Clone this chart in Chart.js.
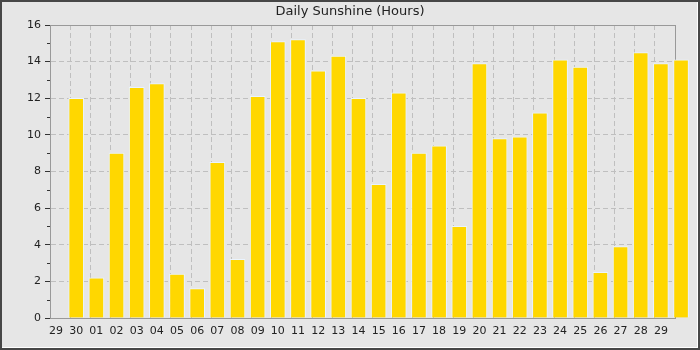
<!DOCTYPE html>
<html>
<head>
<meta charset="utf-8">
<title>Daily Sunshine</title>
<script src="https://cdn.jsdelivr.net/npm/chart.js@4/dist/chart.umd.min.js"></script>
<style>
  html, body { margin: 0; padding: 0; background: #fff; }
</style>
</head>
<body>
<canvas id="sunshine-chart" width="700" height="350"></canvas>
<script>
// Day of month printed under each bar (29th of last month .. 29th of this one)
const dayLabels = ['29', '30', '01', '02', '03', '04', '05', '06', '07', '08', '09', '10',
    '11', '12', '13', '14', '15', '16', '17', '18', '19', '20', '21', '22', '23', '24',
    '25', '26', '27', '28', '29'];

// Hours of sunshine. First day has no reading; the last bar has no label
// and spills past the right edge of the plot, as in the original graph.
const sunshineHours = [null, 12.0, 2.2, 9.0, 12.6, 12.8, 2.4, 1.6, 8.5, 3.2, 12.1,
    15.1, 15.2, 13.5, 14.3, 12.0, 7.3, 12.3, 9.0, 9.4, 5.0, 13.9, 9.8, 9.9, 11.2,
    14.1, 13.7, 2.5, 3.9, 14.5, 13.9, 14.1];

const yTicks = { min: 0, max: 16 };

const tickFont = { family: 'DejaVu Sans', size: 11 };
const gridColor = '#bfbfbf';
const axisColor = '#999999';
// bars sit a little to the right of the dashed day lines
const barShift = 0.3;

// dark frame with a light bevel line, grey background
const framePlugin = {
    id: 'frame',
    beforeDraw(chart) {
        const { ctx, width, height } = chart;
        ctx.save();
        ctx.fillStyle = '#474747';
        ctx.fillRect(0, 0, width, height);
        ctx.fillStyle = '#ffffff';
        ctx.fillRect(2, 2, width - 4, height - 4);
        ctx.fillStyle = '#e6e6e6';
        ctx.fillRect(2, 2, width - 5, height - 5);
        ctx.restore();
    }
};

// short tick marks for the odd hours on the y axis
const minorTicks = {
    id: 'minorTicks',
    afterDraw(chart) {
        const y = chart.scales.y;
        const ctx = chart.ctx;
        ctx.save();
        ctx.strokeStyle = '#333';
        ctx.lineWidth = 1;
        y.ticks.forEach(t => {
            if (t.value % 2) {
                const py = Math.round(y.getPixelForValue(t.value)) + 0.5;
                ctx.beginPath();
                ctx.moveTo(y.right - 3, py);
                ctx.lineTo(y.right, py);
                ctx.stroke();
            }
        });
        ctx.restore();
    }
};

new Chart(document.getElementById('sunshine-chart'), {
    type: 'bar',
    data: {
        datasets: [{
            data: sunshineHours.map((v, i) => ({ x: i, y: v })),
            backgroundColor: '#ffd700',
            borderColor: '#eaf4ff',
            borderWidth: 1,
            barThickness: 15,
            clip: false
        }]
    },
    options: {
        responsive: false,
        animation: false,
        devicePixelRatio: 1,
        layout: { padding: 0 },
        plugins: {
            legend: { display: false },
            tooltip: { enabled: false },
            title: {
                display: true,
                text: 'Daily Sunshine (Hours)',
                color: '#222',
                font: { family: 'DejaVu Sans', size: 13, weight: 'normal' },
                padding: { top: 4, bottom: 5.4 }
            }
        },
        scales: {
            x: {
                type: 'linear',
                position: 'bottom',
                bounds: 'data',
                offset: false,
                min: -barShift,
                max: dayLabels.length - 1 + (1 - barShift),
                afterBuildTicks: s => { s.ticks = dayLabels.map((_, i) => ({ value: i })); },
                afterFit: s => { s.height = 32; },
                grid: { display: false, drawTicks: false, offset: false },
                border: { display: true, color: axisColor, width: 1 },
                ticks: {
                    autoSkip: false,
                    maxRotation: 0,
                    padding: 7,
                    color: '#222',
                    font: tickFont,
                    callback: v => dayLabels[v]
                }
            },
            // dashed day lines
            xg: {
                type: 'linear',
                position: 'bottom',
                bounds: 'data',
                offset: false,
                min: 0,
                max: dayLabels.length,
                afterBuildTicks: s => {
                    s.ticks = [];
                    for (let i = 0; i <= dayLabels.length; i++) s.ticks.push({ value: i });
                },
                afterFit: s => { s.height = 0; },
                grid: {
                    offset: false,
                    drawTicks: false,
                    color: c => (c.tick.value === 0 || c.tick.value === dayLabels.length) ? 'transparent' : gridColor
                },
                border: { display: false, dash: [5, 3] },
                ticks: { display: false, autoSkip: false }
            },
            // top edge of the plot box
            xt: {
                type: 'linear',
                position: 'top',
                offset: false,
                min: 0,
                max: 1,
                afterFit: s => { s.height = 0; },
                grid: { display: false, drawTicks: false, offset: false },
                border: { display: true, color: axisColor },
                ticks: { display: false }
            },
            y: {
                type: 'linear',
                position: 'left',
                bounds: 'data',
                min: yTicks.min,
                max: yTicks.max,
                afterFit: s => { s.width = 50; },
                grid: {
                    tickLength: 5,
                    color: c => (c.tick.value % 2 || c.tick.value === yTicks.min || c.tick.value === yTicks.max) ? 'transparent' : gridColor,
                    tickColor: c => c.tick.value % 2 ? 'transparent' : '#333'
                },
                border: { display: true, color: axisColor, dash: [5, 3] },
                ticks: {
                    stepSize: 1,
                    autoSkip: false,
                    padding: 4,
                    color: '#222',
                    font: tickFont,
                    callback: v => v % 2 ? '' : v
                }
            },
            // right edge of the plot box
            yr: {
                type: 'linear',
                position: 'right',
                min: 0,
                max: 1,
                afterFit: s => { s.width = 25; },
                grid: { display: false, drawTicks: false },
                border: { display: true, color: axisColor },
                ticks: { display: false }
            }
        }
    },
    plugins: [framePlugin, minorTicks]
});
</script>
</body>
</html>
